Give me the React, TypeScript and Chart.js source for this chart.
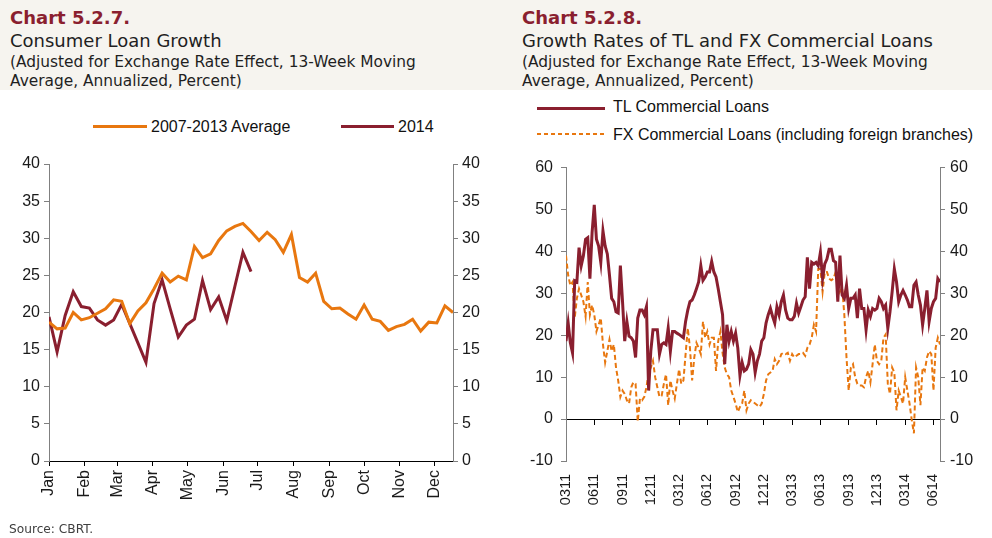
import React, { useEffect, useRef } from "react";
import { Chart, registerables } from "chart.js";

Chart.register(...registerables);

// ---------- Data ----------
const monthLabels = ["Jan", "Feb", "Mar", "Apr", "May", "Jun", "Jul", "Aug", "Sep", "Oct", "Nov", "Dec"];
const monthStartDays = [0, 31, 59, 90, 120, 151, 181, 212, 243, 273, 304, 334];

// weekly values, 2007-2013 average
const avg0713 = [
  18.7, 17.8, 17.9, 20.0, 19.0, 19.3, 19.9, 20.5, 21.7, 21.5,
  18.5, 20.2, 21.3, 23.2, 25.3, 24.1, 24.9, 24.4, 28.9, 27.4,
  27.9, 29.7, 31.0, 31.6, 32.0, 30.9, 29.7, 30.8, 29.8, 28.1,
  30.5, 24.7, 24.1, 25.3, 21.5, 20.5, 20.6, 19.8, 19.1, 21.0,
  19.1, 18.8, 17.6, 18.1, 18.4, 19.1, 17.5, 18.7, 18.6, 20.9,
  20.0,
];

// weekly values, 2014
const y2014 = [
  19.4, 14.7, 19.6, 22.8, 20.8, 20.6, 19.0, 18.3, 19.0, 21.1,
  18.5, 15.9, 13.3, 21.2, 24.4, 20.5, 16.7, 18.3, 19.1, 24.3,
  20.4, 22.1, 18.9, 23.5, 28.1, 25.5,
];

const quarterLabels = ["0311", "0611", "0911", "1211", "0312", "0612", "0912", "1212", "0313", "0613", "0913", "1213", "0314", "0614"];

// weekly values from March 2011
const tlLoans = [
  18.6, 22.9, 18.2, 15.8, 33.0, 32.7, 40.9, 36.6, 39.0, 42.9,
  43.3, 33.5, 44.5, 51.1, 42.9, 41.3, 37.4, 44.9, 41.3, 39.4,
  34.3, 28.8, 28.0, 25.6, 25.3, 36.6, 28.0, 18.6, 23.3, 19.8,
  19.4, 18.6, 14.7, 24.1, 26.0, 26.0, 24.9, 26.8, 6.8, 16.2,
  21.3, 21.3, 21.3, 15.5, 17.8, 18.2, 17.8, 21.7, 16.2, 20.9,
  20.9, 20.5, 20.2, 19.8, 19.4, 23.3, 26.0, 28.0, 28.4, 29.6,
  31.1, 32.7, 36.6, 33.1, 33.9, 35.1, 35.1, 37.6, 35.1, 33.9,
  31.1, 28.0, 24.9, 13.1, 22.5, 18.6, 20.9, 18.6, 20.5, 17.0,
  10.4, 13.5, 11.5, 11.9, 13.1, 16.6, 15.5, 11.1, 13.9, 15.5,
  18.6, 19.4, 22.9, 24.9, 26.4, 24.5, 22.9, 26.8, 24.9, 28.0,
  29.6, 26.0, 24.1, 23.7, 23.7, 24.5, 27.6, 25.3, 26.8, 28.4,
  29.2, 38.6, 31.1, 37.4, 37.0, 37.4, 36.6, 39.8, 33.5, 37.0,
  38.2, 40.5, 40.5, 37.8, 37.4, 28.0, 39.0, 29.6, 28.8, 31.9,
  26.4, 28.8, 28.8, 29.6, 24.1, 31.1, 26.4, 26.4, 21.3, 26.0,
  24.5, 26.4, 26.0, 26.4, 28.8, 28.0, 26.4, 27.2, 21.7, 25.6,
  30.4, 35.8, 32.7, 28.0, 29.6, 30.7, 29.6, 28.4, 26.8, 26.8,
  31.9, 32.7, 29.6, 27.2, 22.5, 26.4, 30.7, 23.3, 26.4, 28.0,
  28.8, 33.5, 32.7,
];

const fxLoans = [
  39.0, 34.3, 31.9, 32.7, 24.1, 28.8, 31.1, 29.6, 28.0, 24.5,
  32.7, 24.9, 27.2, 24.9, 20.9, 22.5, 24.1, 17.8, 13.5, 16.2,
  19.0, 16.2, 17.8, 12.3, 9.2, 5.3, 6.8, 6.0, 4.5, 3.7,
  7.6, 8.8, 8.4, -0.6, 4.9, 4.5, 5.3, 7.6, 11.1, 12.3,
  13.9, 10.0, 7.6, 5.3, 5.6, 8.4, 10.7, 3.3, 9.2, 6.8,
  4.9, 8.4, 11.9, 8.4, 9.2, 15.5, 21.7, 17.0, 9.2, 14.7,
  18.2, 17.0, 15.5, 23.3, 19.4, 20.9, 17.8, 19.4, 19.4, 11.5,
  18.6, 20.9, 15.8, 12.3, 10.7, 10.0, 6.8, 5.3, 3.7, 1.7,
  2.9, 3.7, 6.8, 2.1, 3.7, 4.5, 4.1, 3.7, 3.3, 2.9,
  3.7, 6.0, 9.2, 10.7, 11.1, 11.5, 14.3, 13.1, 13.9, 15.5,
  15.8, 15.5, 15.8, 13.9, 15.5, 14.7, 15.1, 15.5, 15.5, 15.8,
  15.1, 17.0, 17.8, 19.4, 22.5, 20.9, 35.8, 35.8, 30.4, 35.1,
  35.1, 33.5, 33.1, 33.5, 35.1, 33.9, 30.4, 31.5, 24.9, 14.7,
  6.8, 12.3, 13.1, 10.0, 8.4, 8.0, 8.0, 7.6, 10.0, 11.5,
  8.8, 13.1, 17.8, 13.9, 13.1, 13.9, 19.4, 20.2, 8.4, 6.0,
  12.3, 11.1, 2.1, 6.8, 5.3, 3.7, 10.0, 6.8, 3.7, -0.2,
  -3.4, 12.3, 10.0, 3.3, 12.3, 11.5, 14.7, 16.2, 15.5, 6.8,
  17.0, 19.4, 17.8,
];

// ---------- Styles ----------
const ORANGE = "#E8770F";
const DARK_RED = "#8A1F2F";
const AXIS_GRAY = "#808080";
const TICK_FONT = "'Liberation Sans', Arial, sans-serif";
const HEAD_FONT = "'DejaVu Sans', sans-serif";

const toPoints = (arr: number[]) => arr.map((y, x) => ({ x, y }));

function ChartCanvas({ config, left, top, width, height }: any) {
  const ref = useRef<HTMLCanvasElement | null>(null);
  useEffect(() => {
    if (!ref.current) return;
    const chart = new Chart(ref.current, config);
    return () => chart.destroy();
  }, []);
  return (
    <canvas
      ref={ref}
      width={width}
      height={height}
      style={{ position: "absolute", left, top, width, height }}
    />
  );
}

const yAxis = (pos: "left" | "right", min: number, max: number, step: number, w: number, pad: number) => ({
  type: "linear",
  position: pos,
  min,
  max,
  afterFit: (s: any) => {
    s.width = w;
  },
  border: { color: AXIS_GRAY, width: 1 },
  grid: { drawOnChartArea: false, tickLength: 5, color: AXIS_GRAY, lineWidth: 1 },
  ticks: {
    stepSize: step,
    padding: pad,
    color: "#1a1a1a",
    font: { family: TICK_FONT, size: 16 },
  },
});

const leftConfig: any = {
  type: "line",
  data: {
    datasets: [
      { label: "2007-2013 Average", data: toPoints(avg0713), borderColor: ORANGE, borderWidth: 3, pointRadius: 0, tension: 0 },
      { label: "2014", data: toPoints(y2014), borderColor: DARK_RED, borderWidth: 3, pointRadius: 0, tension: 0 },
    ],
  },
  options: {
    responsive: false,
    animation: false,
    events: [],
    layout: { padding: { top: 14, left: 0, right: 0, bottom: 0 } },
    plugins: { legend: { display: false }, tooltip: { enabled: false } },
    scales: {
      x: {
        type: "linear",
        min: 0,
        max: avg0713.length - 1,
        afterBuildTicks: (s: any) => {
          s.ticks = monthStartDays.map((d) => ({ value: d / 7 }));
        },
        afterFit: (s: any) => {
          s.height = 77;
        },
        border: { color: "#000", width: 1 },
        grid: { drawOnChartArea: false, tickLength: 5, color: "#000" },
        ticks: {
          autoSkip: false,
          minRotation: 90,
          maxRotation: 90,
          padding: 4,
          color: "#1a1a1a",
          font: { family: TICK_FONT, size: 16 },
          callback: (_v: any, i: number) => monthLabels[i],
        },
      },
      y: yAxis("left", 0, 40, 5, 49, 4),
      y2: yAxis("right", 0, 40, 5, 43, 4),
    },
  },
};

const quarterTicks = (s: any) => {
  s.ticks = quarterLabels.map((_, i) => ({ value: i * 13 }));
};

const rightConfig: any = {
  type: "line",
  data: {
    datasets: [
      { label: "TL Commercial Loans", data: toPoints(tlLoans), borderColor: DARK_RED, borderWidth: 3, pointRadius: 0, tension: 0 },
      {
        label: "FX Commercial Loans (including foreign branches)",
        data: toPoints(fxLoans),
        borderColor: ORANGE,
        borderWidth: 2,
        borderDash: [5, 3],
        pointRadius: 0,
        tension: 0,
      },
    ],
  },
  options: {
    responsive: false,
    animation: false,
    events: [],
    layout: { padding: { top: 14, left: 0, right: 0, bottom: 0 } },
    plugins: { legend: { display: false }, tooltip: { enabled: false } },
    scales: {
      x: {
        type: "linear",
        min: 0,
        max: tlLoans.length - 1,
        afterBuildTicks: quarterTicks,
        afterFit: (s: any) => {
          s.height = 77;
        },
        border: { display: false },
        grid: { display: false, drawTicks: false, tickLength: 0 },
        ticks: {
          autoSkip: false,
          minRotation: 90,
          maxRotation: 90,
          padding: 13,
          color: "#1a1a1a",
          font: { family: TICK_FONT, size: 14.5 },
          callback: (_v: any, i: number) => quarterLabels[i],
        },
      },
      xz: {
        type: "linear",
        position: { y: 0 },
        min: 0,
        max: tlLoans.length - 1,
        afterBuildTicks: quarterTicks,
        border: { color: "#000", width: 1 },
        grid: { drawOnChartArea: false, tickLength: 5, color: "#000" },
        ticks: { display: false },
      },
      y: yAxis("left", -10, 60, 10, 70, 8),
      y2: yAxis("right", -10, 60, 10, 52, 5),
    },
  },
};

const headStyle = (top: number, size: number, extra: any = {}) => ({
  position: "absolute" as const,
  top,
  fontFamily: HEAD_FONT,
  fontSize: size,
  lineHeight: `${size}px`,
  whiteSpace: "nowrap" as const,
  color: "#1f1f1f",
  ...extra,
});

const legendText = (left: number, top: number) => ({
  position: "absolute" as const,
  left,
  top,
  fontFamily: TICK_FONT,
  fontSize: 16,
  lineHeight: "18px",
  color: "#111",
  whiteSpace: "nowrap" as const,
});

function Header({ x, title, line1, line2, line3 }: any) {
  return (
    <>
      <div style={headStyle(8.5, 18, { left: x, fontWeight: "bold", color: DARK_RED })}>{title}</div>
      <div style={headStyle(32.3, 18, { left: x })}>{line1}</div>
      <div style={headStyle(54.5, 15.4, { left: x })}>{line2}</div>
      <div style={headStyle(73.5, 15.4, { left: x })}>{line3}</div>
    </>
  );
}

export default function App() {
  return (
    <div style={{ position: "absolute", left: 0, top: 0, width: 992, height: 538, background: "#fff", overflow: "hidden" }}>
      <div style={{ position: "absolute", left: 0, top: 0, width: 992, height: 90, background: "#F6F4EF" }} />
      <Header
        x={10}
        title="Chart 5.2.7."
        line1="Consumer Loan Growth"
        line2="(Adjusted for Exchange Rate Effect, 13-Week Moving"
        line3="Average, Annualized, Percent)"
      />
      <Header
        x={522}
        title="Chart 5.2.8."
        line1="Growth Rates of TL and FX Commercial Loans"
        line2="(Adjusted for Exchange Rate Effect, 13-Week Moving"
        line3="Average, Annualized, Percent)"
      />

      {/* left legend */}
      <div style={{ position: "absolute", left: 93, top: 125, width: 54, height: 3, background: ORANGE }} />
      <div style={legendText(151, 118)}>2007-2013 Average</div>
      <div style={{ position: "absolute", left: 341, top: 125, width: 53, height: 3, background: DARK_RED }} />
      <div style={legendText(398, 118)}>2014</div>

      {/* right legend */}
      <div style={{ position: "absolute", left: 537, top: 107, width: 68, height: 3, background: DARK_RED }} />
      <div style={legendText(613, 98)}>TL Commercial Loans</div>
      <div
        style={{
          position: "absolute",
          left: 537,
          top: 133,
          width: 68,
          height: 2,
          background: `repeating-linear-gradient(to right, ${ORANGE} 0px, ${ORANGE} 4px, transparent 4px, transparent 7px)`,
        }}
      />
      <div style={legendText(613, 125.5)}>FX Commercial Loans (including foreign branches)</div>

      <ChartCanvas config={leftConfig} left={0} top={150} width={496} height={388} />
      <ChartCanvas config={rightConfig} left={496} top={150} width={496} height={388} />

      <div style={headStyle(522.7, 12.2, { left: 9, color: "#404040" })}>Source: CBRT.</div>
    </div>
  );
}
